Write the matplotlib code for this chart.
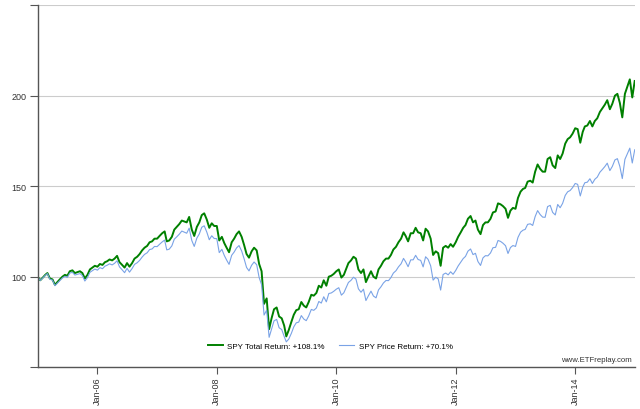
import matplotlib
matplotlib.use("Agg")
import matplotlib.pyplot as plt, matplotlib.dates as mdates, numpy as np, pandas as pd

plt.rcParams['font.family'] = ['Liberation Sans', 'DejaVu Sans']

total_return = [
    100, 98, 99.5, 101, 102, 99, 98.5, 95.5, 97, 98.5, 100, 101, 100.5, 103, 103.5, 102, 102.5, 103, 102, 99, 101, 104, 105, 106,  # 2005
    105.5, 107, 106.5, 108, 108.5, 109.5, 109, 110, 111.5, 108, 106.5, 105, 107.5, 105.5, 107.5, 110, 111, 112.5, 114.5, 116, 117, 119, 119.5, 121,  # 2006
    121, 122.5, 124, 125, 119.5, 120, 122, 126, 127.5, 129, 131, 130.5, 130, 133, 126, 122.5, 127.5, 130, 134, 135, 131.5, 127, 129.5, 128,  # 2007
    128, 120, 122, 118.5, 116, 113.5, 119, 121, 123.5, 125, 122, 117.5, 112.5, 110.5, 114, 116, 114.5, 107, 103, 85, 88, 71, 77, 82,  # 2008
    83, 78, 77, 73, 67, 70.5, 75, 79, 81.5, 82, 86, 84, 83, 86, 90, 89.5, 91, 95, 94, 98, 95, 100, 100.5, 101.5,  # 2009
    103, 104, 99.5, 101, 104, 107.5, 109, 111, 110, 104, 102, 104, 97, 100, 103, 100, 99, 104, 106, 108.5, 110, 110, 112, 115,  # 2010
    116.5, 119, 121, 124.5, 122.5, 119.5, 124, 124, 127, 124.5, 124, 120, 126.5, 125, 121, 112, 114, 113, 106, 116, 117, 116, 118, 116.5,  # 2011
    119, 122, 124.5, 127, 128.5, 132, 133.5, 130, 131, 126, 123.5, 128.5, 130, 130, 132, 135.5, 136, 140.5, 140, 139, 137.5, 132.5, 136.5, 138,  # 2012
    137.5, 143.5, 147, 148.5, 149, 152.5, 153, 152, 158, 162, 159.5, 158, 158, 165, 166, 161.5, 160, 167, 165, 168, 173.5, 176, 177, 179,  # 2013
    182, 181.5, 174, 180, 183, 183.5, 186, 183, 186, 187.5, 191, 193, 195, 197.5, 192.5, 195.5, 200, 201, 196, 188, 201, 205, 209, 199, 208.1,  # 2014
]
price_return = [
    100, 97.9, 99.3, 100.8, 101.7, 98.6, 98.1, 95.0, 96.4, 97.8, 99.3, 100.2, 99.6, 102.0, 102.4, 100.9, 101.3, 101.7, 100.6, 97.6, 99.5, 102.4, 103.3, 104.2,
    103.6, 105.0, 104.4, 105.8, 106.3, 107.1, 106.5, 107.4, 108.8, 105.4, 103.8, 102.2, 104.6, 102.5, 104.5, 106.8, 107.7, 109.0, 110.8, 112.3, 113.2, 115.0, 115.3, 116.7,
    116.6, 117.9, 119.2, 120.2, 114.8, 115.2, 117.0, 120.7, 122.0, 123.4, 125.2, 124.6, 124.0, 126.8, 120.0, 116.7, 121.3, 123.6, 127.3, 128.1, 124.6, 120.4, 122.6, 121.1,
    121.0, 113.3, 115.1, 111.7, 109.2, 106.8, 111.8, 113.6, 115.9, 117.2, 114.2, 109.9, 105.1, 103.2, 106.3, 108.1, 106.6, 99.5, 95.6, 78.8, 81.5, 66.5, 71.1, 75.6,
    76.4, 71.8, 70.8, 67.0, 64.0, 65.5, 68.7, 72.3, 74.5, 74.9, 78.5, 76.6, 75.7, 78.3, 81.9, 81.4, 82.7, 86.3, 85.4, 88.9, 86.1, 90.7, 91.0, 91.9,
    93.1, 93.9, 89.8, 91.1, 93.7, 96.8, 98.0, 99.7, 98.7, 93.3, 91.4, 93.1, 86.8, 89.4, 92.0, 89.3, 88.3, 92.7, 94.4, 96.5, 97.9, 97.8, 99.5, 102.0,
    103.3, 105.4, 107.1, 110.1, 108.2, 105.5, 109.3, 109.3, 111.8, 109.5, 109.0, 105.4, 111.0, 109.6, 106.0, 98.1, 99.7, 98.8, 92.6, 101.2, 102.0, 101.0, 102.7, 101.3,
    103.4, 105.9, 108.0, 110.0, 111.2, 114.1, 115.3, 112.2, 112.9, 108.4, 106.2, 110.4, 111.6, 111.5, 113.1, 116.0, 116.2, 120.0, 119.5, 118.5, 117.1, 112.8, 116.1, 117.2,
    116.7, 121.7, 124.6, 125.7, 126.1, 128.9, 129.2, 128.3, 133.2, 136.5, 134.3, 132.9, 132.8, 138.7, 139.4, 135.5, 134.1, 139.9, 138.1, 140.5, 144.9, 146.9, 147.6, 149.2,
    151.5, 151.0, 144.6, 149.5, 151.9, 152.2, 154.1, 151.5, 153.8, 155.0, 157.7, 159.2, 160.8, 162.7, 158.6, 160.9, 164.5, 165.2, 160.9, 154.2, 164.8, 167.9, 171.0, 162.8, 170.1,
]
labels = ["SPY Total Return: +108.1%", "SPY Price Return: +70.1%"]
y_ticks = [50, 100, 150, 200, 250]
y_tick_labels = ["", "100", "150", "200", ""]

dates = [pd.Timestamp(y, m, d) for y in range(2005, 2015) for m in range(1, 13) for d in (1, 16)]
dates.append(pd.Timestamp(2014, 12, 31))

fig = plt.figure(figsize=(6.4, 4.1), dpi=100)
ax = fig.add_axes([0.059, 0.102, 0.933, 0.883])

ax.plot(dates, total_return, color="#008000", lw=1.4, label=labels[0])
ax.plot(dates, price_return, color="#7aa3e6", lw=0.8, label=labels[1])

ax.set_xlim(pd.Timestamp(2005, 1, 1), pd.Timestamp(2015, 1, 1))
ax.set_ylim(50, 250)
ax.set_yticks(y_ticks)
ax.set_yticklabels(y_tick_labels)
ax.xaxis.set_major_locator(mdates.YearLocator(2, month=1, day=1))
ax.xaxis.set_major_formatter(mdates.DateFormatter("%b-%y"))

ax.grid(axis="y", color="#cccccc", lw=0.8)
ax.set_axisbelow(True)
for s in ("top", "right"):
    ax.spines[s].set_visible(False)
for s in ("left", "bottom"):
    ax.spines[s].set_color("#555555")
    ax.spines[s].set_linewidth(1.0)

ax.tick_params(axis="y", length=6, color="#555555", labelsize=6.5, labelcolor="#333333", pad=2)
ax.tick_params(axis="x", length=5, color="#555555", labelsize=6.5, labelcolor="#333333", pad=1.5, labelrotation=90)

ax.legend(loc="center", bbox_to_anchor=(0.49, 0.058), ncol=2, frameon=False,
          fontsize=5.8, handlelength=1.8, columnspacing=1.8, handletextpad=0.6)
ax.text(0.995, 0.022, "www.ETFreplay.com", transform=ax.transAxes, ha="right", va="center",
        fontsize=5.6, color="#333333")

fig.savefig("out.png", dpi=100)
